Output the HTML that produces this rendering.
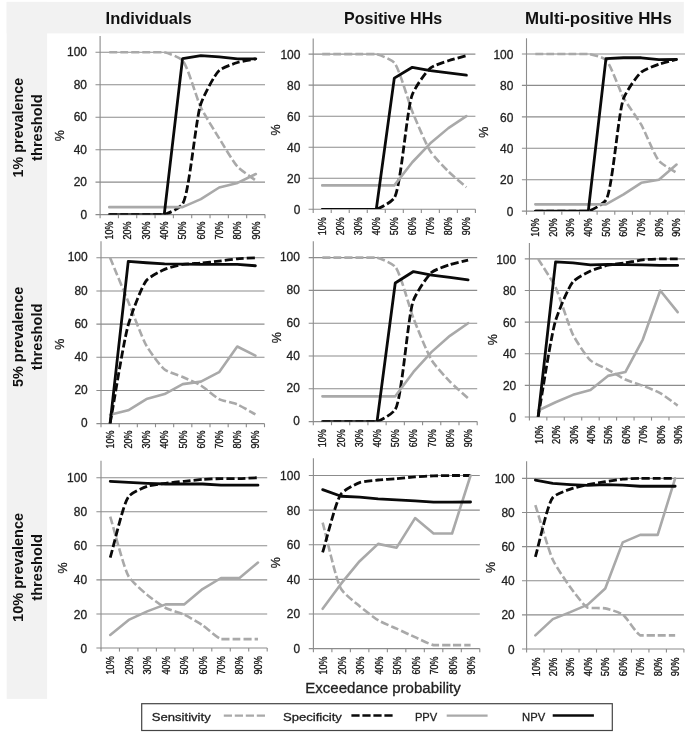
<!DOCTYPE html>
<html lang="en"><head><meta charset="utf-8"><title>Figure</title>
<style>html,body{margin:0;padding:0;background:#fff}body{width:685px;height:737px;overflow:hidden}svg{display:block}</style>
</head><body>
<svg width="685" height="737" viewBox="0 0 685 737" font-family='"Liberation Sans", sans-serif'>
<rect width="685" height="737" fill="#fff"/>
<rect x="6.7" y="1.9" width="677.1" height="31.5" fill="#f2f2f2"/>
<rect x="6.7" y="1.9" width="40.4" height="697" fill="#f2f2f2"/>
<text x="105.6" y="24.1" font-size="17" font-weight="bold" textLength="86.2" lengthAdjust="spacingAndGlyphs" fill="#111">Individuals</text>
<text x="344.1" y="24.1" font-size="17" font-weight="bold" textLength="98.1" lengthAdjust="spacingAndGlyphs" fill="#111">Positive HHs</text>
<text x="524.9" y="24.1" font-size="17" font-weight="bold" textLength="147" lengthAdjust="spacingAndGlyphs" fill="#111">Multi-positive HHs</text>
<text x="22.7" y="127.6" font-size="14.5" font-weight="bold" text-anchor="middle" textLength="99.6" lengthAdjust="spacingAndGlyphs" transform="rotate(-90 22.7 127.6)" fill="#111">1% prevalence</text>
<text x="42.3" y="127.6" font-size="14.5" font-weight="bold" text-anchor="middle" textLength="66.6" lengthAdjust="spacingAndGlyphs" transform="rotate(-90 42.3 127.6)" fill="#111">threshold</text>
<text x="22.7" y="336.9" font-size="14.5" font-weight="bold" text-anchor="middle" textLength="100.2" lengthAdjust="spacingAndGlyphs" transform="rotate(-90 22.7 336.9)" fill="#111">5% prevalence</text>
<text x="42.3" y="336.9" font-size="14.5" font-weight="bold" text-anchor="middle" textLength="66.6" lengthAdjust="spacingAndGlyphs" transform="rotate(-90 42.3 336.9)" fill="#111">threshold</text>
<text x="22.7" y="567.4" font-size="14.5" font-weight="bold" text-anchor="middle" textLength="109" lengthAdjust="spacingAndGlyphs" transform="rotate(-90 22.7 567.4)" fill="#111">10% prevalence</text>
<text x="42.3" y="567.4" font-size="14.5" font-weight="bold" text-anchor="middle" textLength="66.6" lengthAdjust="spacingAndGlyphs" transform="rotate(-90 42.3 567.4)" fill="#111">threshold</text>
<g>
<line x1="95.5" y1="214.6" x2="265" y2="214.6" stroke="#8c8c8c" stroke-width="1.1"/>
<text x="87" y="218.5" font-size="12.2" text-anchor="end" textLength="6.6" lengthAdjust="spacingAndGlyphs" fill="#222" stroke="#222" stroke-width="0.3">0</text>
<line x1="95.5" y1="182.14" x2="265" y2="182.14" stroke="#8c8c8c" stroke-width="1.1"/>
<text x="87" y="186.04" font-size="12.2" text-anchor="end" textLength="13.3" lengthAdjust="spacingAndGlyphs" fill="#222" stroke="#222" stroke-width="0.3">20</text>
<line x1="95.5" y1="149.68" x2="265" y2="149.68" stroke="#8c8c8c" stroke-width="1.1"/>
<text x="87" y="153.58" font-size="12.2" text-anchor="end" textLength="13.3" lengthAdjust="spacingAndGlyphs" fill="#222" stroke="#222" stroke-width="0.3">40</text>
<line x1="95.5" y1="117.22" x2="265" y2="117.22" stroke="#8c8c8c" stroke-width="1.1"/>
<text x="87" y="121.12" font-size="12.2" text-anchor="end" textLength="13.3" lengthAdjust="spacingAndGlyphs" fill="#222" stroke="#222" stroke-width="0.3">60</text>
<line x1="95.5" y1="84.76" x2="265" y2="84.76" stroke="#8c8c8c" stroke-width="1.1"/>
<text x="87" y="88.66" font-size="12.2" text-anchor="end" textLength="13.3" lengthAdjust="spacingAndGlyphs" fill="#222" stroke="#222" stroke-width="0.3">80</text>
<line x1="95.5" y1="52.3" x2="265" y2="52.3" stroke="#8c8c8c" stroke-width="1.1"/>
<text x="87" y="56.2" font-size="12.2" text-anchor="end" textLength="20" lengthAdjust="spacingAndGlyphs" fill="#222" stroke="#222" stroke-width="0.3">100</text>
<line x1="100.1" y1="36.07" x2="100.1" y2="215.1" stroke="#8c8c8c" stroke-width="1.1"/>
<line x1="100.1" y1="214.6" x2="100.1" y2="218.2" stroke="#8c8c8c" stroke-width="1.1"/>
<line x1="118.42" y1="214.6" x2="118.42" y2="218.2" stroke="#8c8c8c" stroke-width="1.1"/>
<line x1="136.74" y1="214.6" x2="136.74" y2="218.2" stroke="#8c8c8c" stroke-width="1.1"/>
<line x1="155.07" y1="214.6" x2="155.07" y2="218.2" stroke="#8c8c8c" stroke-width="1.1"/>
<line x1="173.39" y1="214.6" x2="173.39" y2="218.2" stroke="#8c8c8c" stroke-width="1.1"/>
<line x1="191.71" y1="214.6" x2="191.71" y2="218.2" stroke="#8c8c8c" stroke-width="1.1"/>
<line x1="210.03" y1="214.6" x2="210.03" y2="218.2" stroke="#8c8c8c" stroke-width="1.1"/>
<line x1="228.36" y1="214.6" x2="228.36" y2="218.2" stroke="#8c8c8c" stroke-width="1.1"/>
<line x1="246.68" y1="214.6" x2="246.68" y2="218.2" stroke="#8c8c8c" stroke-width="1.1"/>
<line x1="265" y1="214.6" x2="265" y2="218.2" stroke="#8c8c8c" stroke-width="1.1"/>
<text x="113.16" y="221.4" font-size="10.2" text-anchor="end" textLength="18" lengthAdjust="spacingAndGlyphs" transform="rotate(-90 113.16 221.4)" fill="#111" stroke="#111" stroke-width="0.3">10%</text>
<text x="131.48" y="221.4" font-size="10.2" text-anchor="end" textLength="18" lengthAdjust="spacingAndGlyphs" transform="rotate(-90 131.48 221.4)" fill="#111" stroke="#111" stroke-width="0.3">20%</text>
<text x="149.81" y="221.4" font-size="10.2" text-anchor="end" textLength="18" lengthAdjust="spacingAndGlyphs" transform="rotate(-90 149.81 221.4)" fill="#111" stroke="#111" stroke-width="0.3">30%</text>
<text x="168.13" y="221.4" font-size="10.2" text-anchor="end" textLength="18" lengthAdjust="spacingAndGlyphs" transform="rotate(-90 168.13 221.4)" fill="#111" stroke="#111" stroke-width="0.3">40%</text>
<text x="186.45" y="221.4" font-size="10.2" text-anchor="end" textLength="18" lengthAdjust="spacingAndGlyphs" transform="rotate(-90 186.45 221.4)" fill="#111" stroke="#111" stroke-width="0.3">50%</text>
<text x="204.77" y="221.4" font-size="10.2" text-anchor="end" textLength="18" lengthAdjust="spacingAndGlyphs" transform="rotate(-90 204.77 221.4)" fill="#111" stroke="#111" stroke-width="0.3">60%</text>
<text x="223.09" y="221.4" font-size="10.2" text-anchor="end" textLength="18" lengthAdjust="spacingAndGlyphs" transform="rotate(-90 223.09 221.4)" fill="#111" stroke="#111" stroke-width="0.3">70%</text>
<text x="241.42" y="221.4" font-size="10.2" text-anchor="end" textLength="18" lengthAdjust="spacingAndGlyphs" transform="rotate(-90 241.42 221.4)" fill="#111" stroke="#111" stroke-width="0.3">80%</text>
<text x="259.74" y="221.4" font-size="10.2" text-anchor="end" textLength="18" lengthAdjust="spacingAndGlyphs" transform="rotate(-90 259.74 221.4)" fill="#111" stroke="#111" stroke-width="0.3">90%</text>
<text x="63.6" y="135.6" font-size="12.5" text-anchor="middle" transform="rotate(-90 63.6 135.6)" fill="#222" stroke="#222" stroke-width="0.3">%</text>
<clipPath id="cp11"><rect x="100.1" y="32.07" width="170.9" height="182.33"/></clipPath>
<g clip-path="url(#cp11)">
<path d="M109.26 52.3 C112.93 52.3 123.92 52.3 127.58 52.3 C131.25 52.3 142.24 52.3 145.91 52.3 C149.57 52.3 160.64 52.3 164.23 52.3 C167.98 53.09 179.41 57.13 182.55 60.41 C187.54 65.63 196.84 99.21 200.87 107.48 C204.27 114.46 215.47 132.31 219.19 138.32 C222.81 144.15 233.42 162.32 237.52 166.72 C240.89 170.35 252.17 177.76 255.84 180.52" fill="none" stroke="#a9a9a9" stroke-width="2.6" stroke-dasharray="8 3"/>
<path d="M109.26 214.6 C112.93 214.6 123.92 214.6 127.58 214.6 C131.25 214.6 142.24 214.6 145.91 214.6 C149.57 214.6 160.69 214.6 164.23 214.6 C168.03 213.58 179.51 208.36 182.55 204.05 C189.23 194.59 195.76 118.12 200.87 103.75 C204 94.98 214.72 74.55 219.19 70.48 C222.44 67.53 233.79 63.7 237.52 62.52 C241.12 61.39 252.17 59.54 255.84 58.79" fill="none" stroke="#0a0a0a" stroke-width="2.8" stroke-dasharray="8 3"/>
<path d="M109.26 207.13 L127.58 207.13 L145.91 207.13 L164.23 207.13 L182.55 207.13 L200.87 199.18 L219.19 187.5 L237.52 182.95 L255.84 174.02" fill="none" stroke="#a9a9a9" stroke-width="2.6" stroke-linejoin="round" stroke-linecap="round"/>
<path d="M109.26 214.6 L127.58 214.6 L145.91 214.6 L164.23 214.6 L182.55 58.63 L200.87 55.55 L219.19 56.84 L237.52 58.79 L255.84 58.79" fill="none" stroke="#0a0a0a" stroke-width="2.8" stroke-linejoin="round" stroke-linecap="round"/>
</g>
</g>
<g>
<line x1="308.6" y1="209.3" x2="475.4" y2="209.3" stroke="#8c8c8c" stroke-width="1.1"/>
<text x="300.4" y="213.9" font-size="12.2" text-anchor="end" textLength="6.6" lengthAdjust="spacingAndGlyphs" fill="#222" stroke="#222" stroke-width="0.3">0</text>
<line x1="308.6" y1="178.26" x2="475.4" y2="178.26" stroke="#8c8c8c" stroke-width="1.1"/>
<text x="300.4" y="182.86" font-size="12.2" text-anchor="end" textLength="13.3" lengthAdjust="spacingAndGlyphs" fill="#222" stroke="#222" stroke-width="0.3">20</text>
<line x1="308.6" y1="147.22" x2="475.4" y2="147.22" stroke="#8c8c8c" stroke-width="1.1"/>
<text x="300.4" y="151.82" font-size="12.2" text-anchor="end" textLength="13.3" lengthAdjust="spacingAndGlyphs" fill="#222" stroke="#222" stroke-width="0.3">40</text>
<line x1="308.6" y1="116.18" x2="475.4" y2="116.18" stroke="#8c8c8c" stroke-width="1.1"/>
<text x="300.4" y="120.78" font-size="12.2" text-anchor="end" textLength="13.3" lengthAdjust="spacingAndGlyphs" fill="#222" stroke="#222" stroke-width="0.3">60</text>
<line x1="308.6" y1="85.14" x2="475.4" y2="85.14" stroke="#8c8c8c" stroke-width="1.1"/>
<text x="300.4" y="89.74" font-size="12.2" text-anchor="end" textLength="13.3" lengthAdjust="spacingAndGlyphs" fill="#222" stroke="#222" stroke-width="0.3">80</text>
<line x1="308.6" y1="54.1" x2="475.4" y2="54.1" stroke="#8c8c8c" stroke-width="1.1"/>
<text x="300.4" y="58.7" font-size="12.2" text-anchor="end" textLength="20" lengthAdjust="spacingAndGlyphs" fill="#222" stroke="#222" stroke-width="0.3">100</text>
<line x1="313.2" y1="38.58" x2="313.2" y2="209.8" stroke="#8c8c8c" stroke-width="1.1"/>
<line x1="313.2" y1="209.3" x2="313.2" y2="212.9" stroke="#8c8c8c" stroke-width="1.1"/>
<line x1="331.22" y1="209.3" x2="331.22" y2="212.9" stroke="#8c8c8c" stroke-width="1.1"/>
<line x1="349.24" y1="209.3" x2="349.24" y2="212.9" stroke="#8c8c8c" stroke-width="1.1"/>
<line x1="367.27" y1="209.3" x2="367.27" y2="212.9" stroke="#8c8c8c" stroke-width="1.1"/>
<line x1="385.29" y1="209.3" x2="385.29" y2="212.9" stroke="#8c8c8c" stroke-width="1.1"/>
<line x1="403.31" y1="209.3" x2="403.31" y2="212.9" stroke="#8c8c8c" stroke-width="1.1"/>
<line x1="421.33" y1="209.3" x2="421.33" y2="212.9" stroke="#8c8c8c" stroke-width="1.1"/>
<line x1="439.36" y1="209.3" x2="439.36" y2="212.9" stroke="#8c8c8c" stroke-width="1.1"/>
<line x1="457.38" y1="209.3" x2="457.38" y2="212.9" stroke="#8c8c8c" stroke-width="1.1"/>
<line x1="475.4" y1="209.3" x2="475.4" y2="212.9" stroke="#8c8c8c" stroke-width="1.1"/>
<text x="326.21" y="217.3" font-size="10.2" text-anchor="end" textLength="18" lengthAdjust="spacingAndGlyphs" transform="rotate(-90 326.21 217.3)" fill="#111" stroke="#111" stroke-width="0.3">10%</text>
<text x="344.23" y="217.3" font-size="10.2" text-anchor="end" textLength="18" lengthAdjust="spacingAndGlyphs" transform="rotate(-90 344.23 217.3)" fill="#111" stroke="#111" stroke-width="0.3">20%</text>
<text x="362.26" y="217.3" font-size="10.2" text-anchor="end" textLength="18" lengthAdjust="spacingAndGlyphs" transform="rotate(-90 362.26 217.3)" fill="#111" stroke="#111" stroke-width="0.3">30%</text>
<text x="380.28" y="217.3" font-size="10.2" text-anchor="end" textLength="18" lengthAdjust="spacingAndGlyphs" transform="rotate(-90 380.28 217.3)" fill="#111" stroke="#111" stroke-width="0.3">40%</text>
<text x="398.3" y="217.3" font-size="10.2" text-anchor="end" textLength="18" lengthAdjust="spacingAndGlyphs" transform="rotate(-90 398.3 217.3)" fill="#111" stroke="#111" stroke-width="0.3">50%</text>
<text x="416.32" y="217.3" font-size="10.2" text-anchor="end" textLength="18" lengthAdjust="spacingAndGlyphs" transform="rotate(-90 416.32 217.3)" fill="#111" stroke="#111" stroke-width="0.3">60%</text>
<text x="434.34" y="217.3" font-size="10.2" text-anchor="end" textLength="18" lengthAdjust="spacingAndGlyphs" transform="rotate(-90 434.34 217.3)" fill="#111" stroke="#111" stroke-width="0.3">70%</text>
<text x="452.37" y="217.3" font-size="10.2" text-anchor="end" textLength="18" lengthAdjust="spacingAndGlyphs" transform="rotate(-90 452.37 217.3)" fill="#111" stroke="#111" stroke-width="0.3">80%</text>
<text x="470.39" y="217.3" font-size="10.2" text-anchor="end" textLength="18" lengthAdjust="spacingAndGlyphs" transform="rotate(-90 470.39 217.3)" fill="#111" stroke="#111" stroke-width="0.3">90%</text>
<text x="280.3" y="130" font-size="12.5" text-anchor="middle" transform="rotate(-90 280.3 130)" fill="#222" stroke="#222" stroke-width="0.3">%</text>
<clipPath id="cp12"><rect x="313.2" y="34.58" width="168.2" height="174.52"/></clipPath>
<g clip-path="url(#cp12)">
<path d="M322.21 54.1 C325.82 54.1 336.63 54.1 340.23 54.1 C343.84 54.1 354.65 54.1 358.26 54.1 C361.86 54.1 372.76 54.1 376.28 54.1 C379.98 54.95 391.22 59.4 394.3 62.79 C399.26 68.25 408.55 102.34 412.32 111.52 C415.78 119.94 426.2 144.89 430.34 151.26 C433.61 156.27 444.65 167.74 448.37 171.43 C451.87 174.9 462.78 184.1 466.39 187.26" fill="none" stroke="#a9a9a9" stroke-width="2.6" stroke-dasharray="8 3"/>
<path d="M322.21 209.3 C325.82 209.3 336.63 209.3 340.23 209.3 C343.84 209.3 354.65 209.3 358.26 209.3 C361.86 209.3 372.81 209.3 376.28 209.3 C380.05 208.2 391.31 202.3 394.3 197.82 C400.92 187.88 406.83 107.97 412.32 94.45 C415.35 86.99 426.17 71.43 430.34 68.07 C433.6 65.44 444.73 62.02 448.37 60.77 C451.94 59.55 462.78 56.68 466.39 55.65" fill="none" stroke="#0a0a0a" stroke-width="2.8" stroke-dasharray="8 3"/>
<path d="M322.21 185.4 L340.23 185.4 L358.26 185.4 L376.28 185.4 L394.3 185.4 L412.32 162.27 L430.34 143.34 L448.37 128.13 L466.39 116.18" fill="none" stroke="#a9a9a9" stroke-width="2.6" stroke-linejoin="round" stroke-linecap="round"/>
<path d="M322.21 209.3 L340.23 209.3 L358.26 209.3 L376.28 209.3 L394.3 78.16 L412.32 67.29 L430.34 70.71 L448.37 72.88 L466.39 75.21" fill="none" stroke="#0a0a0a" stroke-width="2.8" stroke-linejoin="round" stroke-linecap="round"/>
</g>
</g>
<g>
<line x1="521.9" y1="211.1" x2="685.4" y2="211.1" stroke="#8c8c8c" stroke-width="1.1"/>
<text x="513.4" y="215.9" font-size="12.2" text-anchor="end" textLength="6.6" lengthAdjust="spacingAndGlyphs" fill="#222" stroke="#222" stroke-width="0.3">0</text>
<line x1="521.9" y1="179.68" x2="685.4" y2="179.68" stroke="#8c8c8c" stroke-width="1.1"/>
<text x="513.4" y="184.48" font-size="12.2" text-anchor="end" textLength="13.3" lengthAdjust="spacingAndGlyphs" fill="#222" stroke="#222" stroke-width="0.3">20</text>
<line x1="521.9" y1="148.26" x2="685.4" y2="148.26" stroke="#8c8c8c" stroke-width="1.1"/>
<text x="513.4" y="153.06" font-size="12.2" text-anchor="end" textLength="13.3" lengthAdjust="spacingAndGlyphs" fill="#222" stroke="#222" stroke-width="0.3">40</text>
<line x1="521.9" y1="116.84" x2="685.4" y2="116.84" stroke="#8c8c8c" stroke-width="1.1"/>
<text x="513.4" y="121.64" font-size="12.2" text-anchor="end" textLength="13.3" lengthAdjust="spacingAndGlyphs" fill="#222" stroke="#222" stroke-width="0.3">60</text>
<line x1="521.9" y1="85.42" x2="685.4" y2="85.42" stroke="#8c8c8c" stroke-width="1.1"/>
<text x="513.4" y="90.22" font-size="12.2" text-anchor="end" textLength="13.3" lengthAdjust="spacingAndGlyphs" fill="#222" stroke="#222" stroke-width="0.3">80</text>
<line x1="521.9" y1="54" x2="685.4" y2="54" stroke="#8c8c8c" stroke-width="1.1"/>
<text x="513.4" y="58.8" font-size="12.2" text-anchor="end" textLength="20" lengthAdjust="spacingAndGlyphs" fill="#222" stroke="#222" stroke-width="0.3">100</text>
<line x1="526.5" y1="38.29" x2="526.5" y2="211.6" stroke="#8c8c8c" stroke-width="1.1"/>
<line x1="526.5" y1="211.1" x2="526.5" y2="214.7" stroke="#8c8c8c" stroke-width="1.1"/>
<line x1="544.16" y1="211.1" x2="544.16" y2="214.7" stroke="#8c8c8c" stroke-width="1.1"/>
<line x1="561.81" y1="211.1" x2="561.81" y2="214.7" stroke="#8c8c8c" stroke-width="1.1"/>
<line x1="579.47" y1="211.1" x2="579.47" y2="214.7" stroke="#8c8c8c" stroke-width="1.1"/>
<line x1="597.12" y1="211.1" x2="597.12" y2="214.7" stroke="#8c8c8c" stroke-width="1.1"/>
<line x1="614.78" y1="211.1" x2="614.78" y2="214.7" stroke="#8c8c8c" stroke-width="1.1"/>
<line x1="632.43" y1="211.1" x2="632.43" y2="214.7" stroke="#8c8c8c" stroke-width="1.1"/>
<line x1="650.09" y1="211.1" x2="650.09" y2="214.7" stroke="#8c8c8c" stroke-width="1.1"/>
<line x1="667.74" y1="211.1" x2="667.74" y2="214.7" stroke="#8c8c8c" stroke-width="1.1"/>
<line x1="685.4" y1="211.1" x2="685.4" y2="214.7" stroke="#8c8c8c" stroke-width="1.1"/>
<text x="538.93" y="218.5" font-size="10.2" text-anchor="end" textLength="18.2" lengthAdjust="spacingAndGlyphs" transform="rotate(-90 538.93 218.5)" fill="#111" stroke="#111" stroke-width="0.3">10%</text>
<text x="556.58" y="218.5" font-size="10.2" text-anchor="end" textLength="18.2" lengthAdjust="spacingAndGlyphs" transform="rotate(-90 556.58 218.5)" fill="#111" stroke="#111" stroke-width="0.3">20%</text>
<text x="574.24" y="218.5" font-size="10.2" text-anchor="end" textLength="18.2" lengthAdjust="spacingAndGlyphs" transform="rotate(-90 574.24 218.5)" fill="#111" stroke="#111" stroke-width="0.3">30%</text>
<text x="591.89" y="218.5" font-size="10.2" text-anchor="end" textLength="18.2" lengthAdjust="spacingAndGlyphs" transform="rotate(-90 591.89 218.5)" fill="#111" stroke="#111" stroke-width="0.3">40%</text>
<text x="609.55" y="218.5" font-size="10.2" text-anchor="end" textLength="18.2" lengthAdjust="spacingAndGlyphs" transform="rotate(-90 609.55 218.5)" fill="#111" stroke="#111" stroke-width="0.3">50%</text>
<text x="627.21" y="218.5" font-size="10.2" text-anchor="end" textLength="18.2" lengthAdjust="spacingAndGlyphs" transform="rotate(-90 627.21 218.5)" fill="#111" stroke="#111" stroke-width="0.3">60%</text>
<text x="644.86" y="218.5" font-size="10.2" text-anchor="end" textLength="18.2" lengthAdjust="spacingAndGlyphs" transform="rotate(-90 644.86 218.5)" fill="#111" stroke="#111" stroke-width="0.3">70%</text>
<text x="662.52" y="218.5" font-size="10.2" text-anchor="end" textLength="18.2" lengthAdjust="spacingAndGlyphs" transform="rotate(-90 662.52 218.5)" fill="#111" stroke="#111" stroke-width="0.3">80%</text>
<text x="680.17" y="218.5" font-size="10.2" text-anchor="end" textLength="18.2" lengthAdjust="spacingAndGlyphs" transform="rotate(-90 680.17 218.5)" fill="#111" stroke="#111" stroke-width="0.3">90%</text>
<text x="488.4" y="132.3" font-size="12.5" text-anchor="middle" transform="rotate(-90 488.4 132.3)" fill="#222" stroke="#222" stroke-width="0.3">%</text>
<clipPath id="cp13"><rect x="526.5" y="34.29" width="164.9" height="176.61"/></clipPath>
<g clip-path="url(#cp13)">
<path d="M535.33 54 C538.86 54 549.45 54 552.98 54 C556.51 54 567.11 54 570.64 54 C574.17 54 584.81 54 588.29 54 C591.87 54.57 602.89 57.09 605.95 59.81 C610.55 63.91 619.8 91.16 623.61 97.99 C626.93 103.94 637.91 118.83 641.26 124.69 C645.02 131.27 654.63 155.86 658.92 160.83 C662.04 164.45 673.04 170.51 676.57 172.92" fill="none" stroke="#a9a9a9" stroke-width="2.6" stroke-dasharray="8 3"/>
<path d="M535.33 211.1 C538.86 211.1 549.45 211.1 552.98 211.1 C556.51 211.1 567.11 211.1 570.64 211.1 C574.17 211.1 584.9 211.1 588.29 211.1 C591.98 210.05 603.02 204.45 605.95 200.1 C612.48 190.41 618.24 111.66 623.61 98.3 C626.57 90.91 637.18 75.5 641.26 72.07 C644.45 69.39 655.33 65.48 658.92 64.21 C662.4 62.98 673.04 60.44 676.57 59.5" fill="none" stroke="#0a0a0a" stroke-width="2.8" stroke-dasharray="8 3"/>
<path d="M535.33 204.34 L552.98 204.34 L570.64 204.34 L588.29 204.34 L605.95 204.34 L623.61 194.45 L641.26 182.82 L658.92 179.68 L676.57 164.6" fill="none" stroke="#a9a9a9" stroke-width="2.6" stroke-linejoin="round" stroke-linecap="round"/>
<path d="M535.33 211.1 L552.98 211.1 L570.64 211.1 L588.29 211.1 L605.95 58.71 L623.61 57.77 L641.26 57.77 L658.92 59.66 L676.57 59.5" fill="none" stroke="#0a0a0a" stroke-width="2.8" stroke-linejoin="round" stroke-linecap="round"/>
</g>
</g>
<g>
<line x1="96.4" y1="423.6" x2="264.5" y2="423.6" stroke="#8c8c8c" stroke-width="1.1"/>
<text x="87.7" y="427.2" font-size="12.2" text-anchor="end" textLength="6.6" lengthAdjust="spacingAndGlyphs" fill="#222" stroke="#222" stroke-width="0.3">0</text>
<line x1="96.4" y1="390.44" x2="264.5" y2="390.44" stroke="#8c8c8c" stroke-width="1.1"/>
<text x="87.7" y="394.04" font-size="12.2" text-anchor="end" textLength="13.3" lengthAdjust="spacingAndGlyphs" fill="#222" stroke="#222" stroke-width="0.3">20</text>
<line x1="96.4" y1="357.28" x2="264.5" y2="357.28" stroke="#8c8c8c" stroke-width="1.1"/>
<text x="87.7" y="360.88" font-size="12.2" text-anchor="end" textLength="13.3" lengthAdjust="spacingAndGlyphs" fill="#222" stroke="#222" stroke-width="0.3">40</text>
<line x1="96.4" y1="324.12" x2="264.5" y2="324.12" stroke="#8c8c8c" stroke-width="1.1"/>
<text x="87.7" y="327.72" font-size="12.2" text-anchor="end" textLength="13.3" lengthAdjust="spacingAndGlyphs" fill="#222" stroke="#222" stroke-width="0.3">60</text>
<line x1="96.4" y1="290.96" x2="264.5" y2="290.96" stroke="#8c8c8c" stroke-width="1.1"/>
<text x="87.7" y="294.56" font-size="12.2" text-anchor="end" textLength="13.3" lengthAdjust="spacingAndGlyphs" fill="#222" stroke="#222" stroke-width="0.3">80</text>
<line x1="96.4" y1="257.8" x2="264.5" y2="257.8" stroke="#8c8c8c" stroke-width="1.1"/>
<text x="87.7" y="261.4" font-size="12.2" text-anchor="end" textLength="20" lengthAdjust="spacingAndGlyphs" fill="#222" stroke="#222" stroke-width="0.3">100</text>
<line x1="101" y1="241.22" x2="101" y2="424.1" stroke="#8c8c8c" stroke-width="1.1"/>
<line x1="101" y1="423.6" x2="101" y2="427.2" stroke="#8c8c8c" stroke-width="1.1"/>
<line x1="119.17" y1="423.6" x2="119.17" y2="427.2" stroke="#8c8c8c" stroke-width="1.1"/>
<line x1="137.33" y1="423.6" x2="137.33" y2="427.2" stroke="#8c8c8c" stroke-width="1.1"/>
<line x1="155.5" y1="423.6" x2="155.5" y2="427.2" stroke="#8c8c8c" stroke-width="1.1"/>
<line x1="173.67" y1="423.6" x2="173.67" y2="427.2" stroke="#8c8c8c" stroke-width="1.1"/>
<line x1="191.83" y1="423.6" x2="191.83" y2="427.2" stroke="#8c8c8c" stroke-width="1.1"/>
<line x1="210" y1="423.6" x2="210" y2="427.2" stroke="#8c8c8c" stroke-width="1.1"/>
<line x1="228.17" y1="423.6" x2="228.17" y2="427.2" stroke="#8c8c8c" stroke-width="1.1"/>
<line x1="246.33" y1="423.6" x2="246.33" y2="427.2" stroke="#8c8c8c" stroke-width="1.1"/>
<line x1="264.5" y1="423.6" x2="264.5" y2="427.2" stroke="#8c8c8c" stroke-width="1.1"/>
<text x="113.88" y="430.6" font-size="10.2" text-anchor="end" textLength="18" lengthAdjust="spacingAndGlyphs" transform="rotate(-90 113.88 430.6)" fill="#111" stroke="#111" stroke-width="0.3">10%</text>
<text x="132.05" y="430.6" font-size="10.2" text-anchor="end" textLength="18" lengthAdjust="spacingAndGlyphs" transform="rotate(-90 132.05 430.6)" fill="#111" stroke="#111" stroke-width="0.3">20%</text>
<text x="150.22" y="430.6" font-size="10.2" text-anchor="end" textLength="18" lengthAdjust="spacingAndGlyphs" transform="rotate(-90 150.22 430.6)" fill="#111" stroke="#111" stroke-width="0.3">30%</text>
<text x="168.38" y="430.6" font-size="10.2" text-anchor="end" textLength="18" lengthAdjust="spacingAndGlyphs" transform="rotate(-90 168.38 430.6)" fill="#111" stroke="#111" stroke-width="0.3">40%</text>
<text x="186.55" y="430.6" font-size="10.2" text-anchor="end" textLength="18" lengthAdjust="spacingAndGlyphs" transform="rotate(-90 186.55 430.6)" fill="#111" stroke="#111" stroke-width="0.3">50%</text>
<text x="204.72" y="430.6" font-size="10.2" text-anchor="end" textLength="18" lengthAdjust="spacingAndGlyphs" transform="rotate(-90 204.72 430.6)" fill="#111" stroke="#111" stroke-width="0.3">60%</text>
<text x="222.88" y="430.6" font-size="10.2" text-anchor="end" textLength="18" lengthAdjust="spacingAndGlyphs" transform="rotate(-90 222.88 430.6)" fill="#111" stroke="#111" stroke-width="0.3">70%</text>
<text x="241.05" y="430.6" font-size="10.2" text-anchor="end" textLength="18" lengthAdjust="spacingAndGlyphs" transform="rotate(-90 241.05 430.6)" fill="#111" stroke="#111" stroke-width="0.3">80%</text>
<text x="259.22" y="430.6" font-size="10.2" text-anchor="end" textLength="18" lengthAdjust="spacingAndGlyphs" transform="rotate(-90 259.22 430.6)" fill="#111" stroke="#111" stroke-width="0.3">90%</text>
<text x="63.6" y="344.2" font-size="12.5" text-anchor="middle" transform="rotate(-90 63.6 344.2)" fill="#222" stroke="#222" stroke-width="0.3">%</text>
<clipPath id="cp21"><rect x="101" y="237.22" width="169.5" height="186.18"/></clipPath>
<g clip-path="url(#cp21)">
<path d="M110.08 257.8 C113.72 266.59 124.62 292.95 128.25 301.74 C131.88 310.52 142.26 338.43 146.42 345.67 C149.72 351.43 160.48 366.39 164.58 369.55 C167.91 372.1 179.13 375.43 182.75 377.01 C186.4 378.61 197.39 383.36 200.92 385.47 C204.67 387.71 215.27 397.16 219.08 399.06 C222.57 400.8 233.69 402.9 237.25 404.37 C240.97 405.91 251.78 412.33 255.42 414.32" fill="none" stroke="#a9a9a9" stroke-width="2.6" stroke-dasharray="8 3"/>
<path d="M110.08 423.6 C113.72 403.87 123.66 340.61 128.25 324.95 C131.43 314.11 141.69 286.07 146.42 280.51 C149.56 276.81 160.83 271.03 164.58 269.41 C168.11 267.88 179.09 265.06 182.75 264.43 C186.35 263.81 197.29 263.44 200.92 263.11 C204.55 262.77 215.45 261.55 219.08 261.12 C222.72 260.68 233.61 259.13 237.25 258.79 C240.88 258.46 251.78 258 255.42 257.8" fill="none" stroke="#0a0a0a" stroke-width="2.8" stroke-dasharray="8 3"/>
<path d="M110.08 414.81 L128.25 410.34 L146.42 399.06 L164.58 394.09 L182.75 384.14 L200.92 381.65 L219.08 372.2 L237.25 346.5 L255.42 355.62" fill="none" stroke="#a9a9a9" stroke-width="2.6" stroke-linejoin="round" stroke-linecap="round"/>
<path d="M110.08 423.6 L128.25 261.45 L146.42 262.77 L164.58 263.93 L182.75 264.1 L200.92 264.43 L219.08 264.43 L237.25 264.43 L255.42 265.76" fill="none" stroke="#0a0a0a" stroke-width="2.8" stroke-linejoin="round" stroke-linecap="round"/>
</g>
</g>
<g>
<line x1="308.7" y1="421.6" x2="477.2" y2="421.6" stroke="#8c8c8c" stroke-width="1.1"/>
<text x="299.9" y="425.2" font-size="12.2" text-anchor="end" textLength="6.6" lengthAdjust="spacingAndGlyphs" fill="#222" stroke="#222" stroke-width="0.3">0</text>
<line x1="308.7" y1="388.8" x2="477.2" y2="388.8" stroke="#8c8c8c" stroke-width="1.1"/>
<text x="299.9" y="392.4" font-size="12.2" text-anchor="end" textLength="13.3" lengthAdjust="spacingAndGlyphs" fill="#222" stroke="#222" stroke-width="0.3">20</text>
<line x1="308.7" y1="356" x2="477.2" y2="356" stroke="#8c8c8c" stroke-width="1.1"/>
<text x="299.9" y="359.6" font-size="12.2" text-anchor="end" textLength="13.3" lengthAdjust="spacingAndGlyphs" fill="#222" stroke="#222" stroke-width="0.3">40</text>
<line x1="308.7" y1="323.2" x2="477.2" y2="323.2" stroke="#8c8c8c" stroke-width="1.1"/>
<text x="299.9" y="326.8" font-size="12.2" text-anchor="end" textLength="13.3" lengthAdjust="spacingAndGlyphs" fill="#222" stroke="#222" stroke-width="0.3">60</text>
<line x1="308.7" y1="290.4" x2="477.2" y2="290.4" stroke="#8c8c8c" stroke-width="1.1"/>
<text x="299.9" y="294" font-size="12.2" text-anchor="end" textLength="13.3" lengthAdjust="spacingAndGlyphs" fill="#222" stroke="#222" stroke-width="0.3">80</text>
<line x1="308.7" y1="257.6" x2="477.2" y2="257.6" stroke="#8c8c8c" stroke-width="1.1"/>
<text x="299.9" y="261.2" font-size="12.2" text-anchor="end" textLength="20" lengthAdjust="spacingAndGlyphs" fill="#222" stroke="#222" stroke-width="0.3">100</text>
<line x1="313.3" y1="241.2" x2="313.3" y2="422.1" stroke="#8c8c8c" stroke-width="1.1"/>
<line x1="313.3" y1="421.6" x2="313.3" y2="425.2" stroke="#8c8c8c" stroke-width="1.1"/>
<line x1="331.51" y1="421.6" x2="331.51" y2="425.2" stroke="#8c8c8c" stroke-width="1.1"/>
<line x1="349.72" y1="421.6" x2="349.72" y2="425.2" stroke="#8c8c8c" stroke-width="1.1"/>
<line x1="367.93" y1="421.6" x2="367.93" y2="425.2" stroke="#8c8c8c" stroke-width="1.1"/>
<line x1="386.14" y1="421.6" x2="386.14" y2="425.2" stroke="#8c8c8c" stroke-width="1.1"/>
<line x1="404.36" y1="421.6" x2="404.36" y2="425.2" stroke="#8c8c8c" stroke-width="1.1"/>
<line x1="422.57" y1="421.6" x2="422.57" y2="425.2" stroke="#8c8c8c" stroke-width="1.1"/>
<line x1="440.78" y1="421.6" x2="440.78" y2="425.2" stroke="#8c8c8c" stroke-width="1.1"/>
<line x1="458.99" y1="421.6" x2="458.99" y2="425.2" stroke="#8c8c8c" stroke-width="1.1"/>
<line x1="477.2" y1="421.6" x2="477.2" y2="425.2" stroke="#8c8c8c" stroke-width="1.1"/>
<text x="326.41" y="429.3" font-size="10.2" text-anchor="end" textLength="18" lengthAdjust="spacingAndGlyphs" transform="rotate(-90 326.41 429.3)" fill="#111" stroke="#111" stroke-width="0.3">10%</text>
<text x="344.62" y="429.3" font-size="10.2" text-anchor="end" textLength="18" lengthAdjust="spacingAndGlyphs" transform="rotate(-90 344.62 429.3)" fill="#111" stroke="#111" stroke-width="0.3">20%</text>
<text x="362.83" y="429.3" font-size="10.2" text-anchor="end" textLength="18" lengthAdjust="spacingAndGlyphs" transform="rotate(-90 362.83 429.3)" fill="#111" stroke="#111" stroke-width="0.3">30%</text>
<text x="381.04" y="429.3" font-size="10.2" text-anchor="end" textLength="18" lengthAdjust="spacingAndGlyphs" transform="rotate(-90 381.04 429.3)" fill="#111" stroke="#111" stroke-width="0.3">40%</text>
<text x="399.25" y="429.3" font-size="10.2" text-anchor="end" textLength="18" lengthAdjust="spacingAndGlyphs" transform="rotate(-90 399.25 429.3)" fill="#111" stroke="#111" stroke-width="0.3">50%</text>
<text x="417.46" y="429.3" font-size="10.2" text-anchor="end" textLength="18" lengthAdjust="spacingAndGlyphs" transform="rotate(-90 417.46 429.3)" fill="#111" stroke="#111" stroke-width="0.3">60%</text>
<text x="435.67" y="429.3" font-size="10.2" text-anchor="end" textLength="18" lengthAdjust="spacingAndGlyphs" transform="rotate(-90 435.67 429.3)" fill="#111" stroke="#111" stroke-width="0.3">70%</text>
<text x="453.88" y="429.3" font-size="10.2" text-anchor="end" textLength="18" lengthAdjust="spacingAndGlyphs" transform="rotate(-90 453.88 429.3)" fill="#111" stroke="#111" stroke-width="0.3">80%</text>
<text x="472.09" y="429.3" font-size="10.2" text-anchor="end" textLength="18" lengthAdjust="spacingAndGlyphs" transform="rotate(-90 472.09 429.3)" fill="#111" stroke="#111" stroke-width="0.3">90%</text>
<text x="280.6" y="337.8" font-size="12.5" text-anchor="middle" transform="rotate(-90 280.6 337.8)" fill="#222" stroke="#222" stroke-width="0.3">%</text>
<clipPath id="cp22"><rect x="313.3" y="237.2" width="169.9" height="184.2"/></clipPath>
<g clip-path="url(#cp22)">
<path d="M322.41 257.6 C326.05 257.6 336.97 257.6 340.62 257.6 C344.26 257.6 355.19 257.6 358.83 257.6 C362.47 257.6 373.49 257.6 377.04 257.6 C380.79 258.49 392.15 263.26 395.25 266.78 C400.33 272.56 409.64 308.57 413.46 318.28 C416.96 327.17 427.46 353.52 431.67 360.26 C434.97 365.54 446.12 377.68 449.88 381.58 C453.42 385.25 464.45 394.97 468.09 398.31" fill="none" stroke="#a9a9a9" stroke-width="2.6" stroke-dasharray="8 3"/>
<path d="M322.41 421.6 C326.05 421.6 336.97 421.6 340.62 421.6 C344.26 421.6 355.19 421.6 358.83 421.6 C362.47 421.6 373.55 421.6 377.04 421.6 C380.86 420.44 392.23 414.13 395.25 409.46 C402.04 398.96 407.88 314.54 413.46 300.24 C416.52 292.4 427.42 275.92 431.67 272.36 C434.95 269.62 446.19 265.89 449.88 264.65 C453.48 263.45 464.45 260.98 468.09 260.06" fill="none" stroke="#0a0a0a" stroke-width="2.8" stroke-dasharray="8 3"/>
<path d="M322.41 396.34 L340.62 396.34 L358.83 396.34 L377.04 396.34 L395.25 396.34 L413.46 371.91 L431.67 351.9 L449.88 335.83 L468.09 323.2" fill="none" stroke="#a9a9a9" stroke-width="2.6" stroke-linejoin="round" stroke-linecap="round"/>
<path d="M322.41 421.6 L340.62 421.6 L358.83 421.6 L377.04 421.6 L395.25 283.02 L413.46 271.54 L431.67 275.15 L449.88 277.44 L468.09 279.9" fill="none" stroke="#0a0a0a" stroke-width="2.8" stroke-linejoin="round" stroke-linecap="round"/>
</g>
</g>
<g>
<line x1="524.8" y1="417" x2="686.4" y2="417" stroke="#8c8c8c" stroke-width="1.1"/>
<text x="516.2" y="421.7" font-size="12.2" text-anchor="end" textLength="6.6" lengthAdjust="spacingAndGlyphs" fill="#222" stroke="#222" stroke-width="0.3">0</text>
<line x1="524.8" y1="385.38" x2="686.4" y2="385.38" stroke="#8c8c8c" stroke-width="1.1"/>
<text x="516.2" y="390.08" font-size="12.2" text-anchor="end" textLength="13.3" lengthAdjust="spacingAndGlyphs" fill="#222" stroke="#222" stroke-width="0.3">20</text>
<line x1="524.8" y1="353.76" x2="686.4" y2="353.76" stroke="#8c8c8c" stroke-width="1.1"/>
<text x="516.2" y="358.46" font-size="12.2" text-anchor="end" textLength="13.3" lengthAdjust="spacingAndGlyphs" fill="#222" stroke="#222" stroke-width="0.3">40</text>
<line x1="524.8" y1="322.14" x2="686.4" y2="322.14" stroke="#8c8c8c" stroke-width="1.1"/>
<text x="516.2" y="326.84" font-size="12.2" text-anchor="end" textLength="13.3" lengthAdjust="spacingAndGlyphs" fill="#222" stroke="#222" stroke-width="0.3">60</text>
<line x1="524.8" y1="290.52" x2="686.4" y2="290.52" stroke="#8c8c8c" stroke-width="1.1"/>
<text x="516.2" y="295.22" font-size="12.2" text-anchor="end" textLength="13.3" lengthAdjust="spacingAndGlyphs" fill="#222" stroke="#222" stroke-width="0.3">80</text>
<line x1="524.8" y1="258.9" x2="686.4" y2="258.9" stroke="#8c8c8c" stroke-width="1.1"/>
<text x="516.2" y="263.6" font-size="12.2" text-anchor="end" textLength="20" lengthAdjust="spacingAndGlyphs" fill="#222" stroke="#222" stroke-width="0.3">100</text>
<line x1="529.4" y1="243.09" x2="529.4" y2="417.5" stroke="#8c8c8c" stroke-width="1.1"/>
<line x1="529.4" y1="417" x2="529.4" y2="420.6" stroke="#8c8c8c" stroke-width="1.1"/>
<line x1="546.84" y1="417" x2="546.84" y2="420.6" stroke="#8c8c8c" stroke-width="1.1"/>
<line x1="564.29" y1="417" x2="564.29" y2="420.6" stroke="#8c8c8c" stroke-width="1.1"/>
<line x1="581.73" y1="417" x2="581.73" y2="420.6" stroke="#8c8c8c" stroke-width="1.1"/>
<line x1="599.18" y1="417" x2="599.18" y2="420.6" stroke="#8c8c8c" stroke-width="1.1"/>
<line x1="616.62" y1="417" x2="616.62" y2="420.6" stroke="#8c8c8c" stroke-width="1.1"/>
<line x1="634.07" y1="417" x2="634.07" y2="420.6" stroke="#8c8c8c" stroke-width="1.1"/>
<line x1="651.51" y1="417" x2="651.51" y2="420.6" stroke="#8c8c8c" stroke-width="1.1"/>
<line x1="668.96" y1="417" x2="668.96" y2="420.6" stroke="#8c8c8c" stroke-width="1.1"/>
<line x1="686.4" y1="417" x2="686.4" y2="420.6" stroke="#8c8c8c" stroke-width="1.1"/>
<text x="542.62" y="425.4" font-size="10.2" text-anchor="end" textLength="18.6" lengthAdjust="spacingAndGlyphs" transform="rotate(-90 542.62 425.4)" fill="#111" stroke="#111" stroke-width="0.3">10%</text>
<text x="560.07" y="425.4" font-size="10.2" text-anchor="end" textLength="18.6" lengthAdjust="spacingAndGlyphs" transform="rotate(-90 560.07 425.4)" fill="#111" stroke="#111" stroke-width="0.3">20%</text>
<text x="577.51" y="425.4" font-size="10.2" text-anchor="end" textLength="18.6" lengthAdjust="spacingAndGlyphs" transform="rotate(-90 577.51 425.4)" fill="#111" stroke="#111" stroke-width="0.3">30%</text>
<text x="594.96" y="425.4" font-size="10.2" text-anchor="end" textLength="18.6" lengthAdjust="spacingAndGlyphs" transform="rotate(-90 594.96 425.4)" fill="#111" stroke="#111" stroke-width="0.3">40%</text>
<text x="612.4" y="425.4" font-size="10.2" text-anchor="end" textLength="18.6" lengthAdjust="spacingAndGlyphs" transform="rotate(-90 612.4 425.4)" fill="#111" stroke="#111" stroke-width="0.3">50%</text>
<text x="629.84" y="425.4" font-size="10.2" text-anchor="end" textLength="18.6" lengthAdjust="spacingAndGlyphs" transform="rotate(-90 629.84 425.4)" fill="#111" stroke="#111" stroke-width="0.3">60%</text>
<text x="647.29" y="425.4" font-size="10.2" text-anchor="end" textLength="18.6" lengthAdjust="spacingAndGlyphs" transform="rotate(-90 647.29 425.4)" fill="#111" stroke="#111" stroke-width="0.3">70%</text>
<text x="664.73" y="425.4" font-size="10.2" text-anchor="end" textLength="18.6" lengthAdjust="spacingAndGlyphs" transform="rotate(-90 664.73 425.4)" fill="#111" stroke="#111" stroke-width="0.3">80%</text>
<text x="682.18" y="425.4" font-size="10.2" text-anchor="end" textLength="18.6" lengthAdjust="spacingAndGlyphs" transform="rotate(-90 682.18 425.4)" fill="#111" stroke="#111" stroke-width="0.3">90%</text>
<text x="496.8" y="339.8" font-size="12.5" text-anchor="middle" transform="rotate(-90 496.8 339.8)" fill="#222" stroke="#222" stroke-width="0.3">%</text>
<clipPath id="cp23"><rect x="529.4" y="239.09" width="163" height="177.71"/></clipPath>
<g clip-path="url(#cp23)">
<path d="M538.12 258.9 C541.61 264.59 552.37 280.76 555.57 287.36 C559.5 295.47 568.98 326.95 573.01 334.79 C576.17 340.92 586.47 356.85 590.46 360.4 C593.63 363.23 604.43 367.67 607.9 369.57 C611.41 371.49 621.78 377.9 625.34 379.53 C628.76 381.1 639.32 384.35 642.79 385.7 C646.3 387.06 656.85 391.22 660.23 393.13 C663.84 395.15 674.19 403.12 677.68 405.62" fill="none" stroke="#a9a9a9" stroke-width="2.6" stroke-dasharray="8 3"/>
<path d="M538.12 417 C541.61 397.71 550.99 335.31 555.57 320.56 C558.58 310.85 568.62 286.83 573.01 281.82 C576.06 278.35 586.87 272.75 590.46 271.07 C593.86 269.48 604.37 266.05 607.9 265.22 C611.35 264.42 621.86 263.39 625.34 262.85 C628.84 262.31 639.29 260.24 642.79 259.85 C646.27 259.46 656.74 258.99 660.23 258.9 C663.72 258.9 674.19 258.9 677.68 258.9" fill="none" stroke="#0a0a0a" stroke-width="2.8" stroke-dasharray="8 3"/>
<path d="M538.12 410.52 L555.57 402.3 L573.01 394.87 L590.46 389.96 L607.9 375.89 L625.34 372.1 L642.79 339.53 L660.23 290.52 L677.68 312.18" fill="none" stroke="#a9a9a9" stroke-width="2.6" stroke-linejoin="round" stroke-linecap="round"/>
<path d="M538.12 417 L555.57 261.9 L573.01 262.85 L590.46 264.91 L607.9 264.43 L625.34 264.59 L642.79 264.91 L660.23 265.38 L677.68 265.38" fill="none" stroke="#0a0a0a" stroke-width="2.8" stroke-linejoin="round" stroke-linecap="round"/>
</g>
</g>
<g>
<line x1="96.4" y1="648" x2="267.2" y2="648" stroke="#8c8c8c" stroke-width="1.1"/>
<text x="87.1" y="652.6" font-size="12.2" text-anchor="end" textLength="6.6" lengthAdjust="spacingAndGlyphs" fill="#222" stroke="#222" stroke-width="0.3">0</text>
<line x1="96.4" y1="613.94" x2="267.2" y2="613.94" stroke="#8c8c8c" stroke-width="1.1"/>
<text x="87.1" y="618.54" font-size="12.2" text-anchor="end" textLength="13.3" lengthAdjust="spacingAndGlyphs" fill="#222" stroke="#222" stroke-width="0.3">20</text>
<line x1="96.4" y1="579.88" x2="267.2" y2="579.88" stroke="#8c8c8c" stroke-width="1.1"/>
<text x="87.1" y="584.48" font-size="12.2" text-anchor="end" textLength="13.3" lengthAdjust="spacingAndGlyphs" fill="#222" stroke="#222" stroke-width="0.3">40</text>
<line x1="96.4" y1="545.82" x2="267.2" y2="545.82" stroke="#8c8c8c" stroke-width="1.1"/>
<text x="87.1" y="550.42" font-size="12.2" text-anchor="end" textLength="13.3" lengthAdjust="spacingAndGlyphs" fill="#222" stroke="#222" stroke-width="0.3">60</text>
<line x1="96.4" y1="511.76" x2="267.2" y2="511.76" stroke="#8c8c8c" stroke-width="1.1"/>
<text x="87.1" y="516.36" font-size="12.2" text-anchor="end" textLength="13.3" lengthAdjust="spacingAndGlyphs" fill="#222" stroke="#222" stroke-width="0.3">80</text>
<line x1="96.4" y1="477.7" x2="267.2" y2="477.7" stroke="#8c8c8c" stroke-width="1.1"/>
<text x="87.1" y="482.3" font-size="12.2" text-anchor="end" textLength="20" lengthAdjust="spacingAndGlyphs" fill="#222" stroke="#222" stroke-width="0.3">100</text>
<line x1="101" y1="460.67" x2="101" y2="648.5" stroke="#8c8c8c" stroke-width="1.1"/>
<line x1="101" y1="648" x2="101" y2="651.6" stroke="#8c8c8c" stroke-width="1.1"/>
<line x1="119.47" y1="648" x2="119.47" y2="651.6" stroke="#8c8c8c" stroke-width="1.1"/>
<line x1="137.93" y1="648" x2="137.93" y2="651.6" stroke="#8c8c8c" stroke-width="1.1"/>
<line x1="156.4" y1="648" x2="156.4" y2="651.6" stroke="#8c8c8c" stroke-width="1.1"/>
<line x1="174.87" y1="648" x2="174.87" y2="651.6" stroke="#8c8c8c" stroke-width="1.1"/>
<line x1="193.33" y1="648" x2="193.33" y2="651.6" stroke="#8c8c8c" stroke-width="1.1"/>
<line x1="211.8" y1="648" x2="211.8" y2="651.6" stroke="#8c8c8c" stroke-width="1.1"/>
<line x1="230.27" y1="648" x2="230.27" y2="651.6" stroke="#8c8c8c" stroke-width="1.1"/>
<line x1="248.73" y1="648" x2="248.73" y2="651.6" stroke="#8c8c8c" stroke-width="1.1"/>
<line x1="267.2" y1="648" x2="267.2" y2="651.6" stroke="#8c8c8c" stroke-width="1.1"/>
<text x="114.23" y="656.2" font-size="10.2" text-anchor="end" textLength="18.3" lengthAdjust="spacingAndGlyphs" transform="rotate(-90 114.23 656.2)" fill="#111" stroke="#111" stroke-width="0.3">10%</text>
<text x="132.7" y="656.2" font-size="10.2" text-anchor="end" textLength="18.3" lengthAdjust="spacingAndGlyphs" transform="rotate(-90 132.7 656.2)" fill="#111" stroke="#111" stroke-width="0.3">20%</text>
<text x="151.17" y="656.2" font-size="10.2" text-anchor="end" textLength="18.3" lengthAdjust="spacingAndGlyphs" transform="rotate(-90 151.17 656.2)" fill="#111" stroke="#111" stroke-width="0.3">30%</text>
<text x="169.63" y="656.2" font-size="10.2" text-anchor="end" textLength="18.3" lengthAdjust="spacingAndGlyphs" transform="rotate(-90 169.63 656.2)" fill="#111" stroke="#111" stroke-width="0.3">40%</text>
<text x="188.1" y="656.2" font-size="10.2" text-anchor="end" textLength="18.3" lengthAdjust="spacingAndGlyphs" transform="rotate(-90 188.1 656.2)" fill="#111" stroke="#111" stroke-width="0.3">50%</text>
<text x="206.57" y="656.2" font-size="10.2" text-anchor="end" textLength="18.3" lengthAdjust="spacingAndGlyphs" transform="rotate(-90 206.57 656.2)" fill="#111" stroke="#111" stroke-width="0.3">60%</text>
<text x="225.03" y="656.2" font-size="10.2" text-anchor="end" textLength="18.3" lengthAdjust="spacingAndGlyphs" transform="rotate(-90 225.03 656.2)" fill="#111" stroke="#111" stroke-width="0.3">70%</text>
<text x="243.5" y="656.2" font-size="10.2" text-anchor="end" textLength="18.3" lengthAdjust="spacingAndGlyphs" transform="rotate(-90 243.5 656.2)" fill="#111" stroke="#111" stroke-width="0.3">80%</text>
<text x="261.97" y="656.2" font-size="10.2" text-anchor="end" textLength="18.3" lengthAdjust="spacingAndGlyphs" transform="rotate(-90 261.97 656.2)" fill="#111" stroke="#111" stroke-width="0.3">90%</text>
<text x="66.7" y="568" font-size="12.5" text-anchor="middle" transform="rotate(-90 66.7 568)" fill="#222" stroke="#222" stroke-width="0.3">%</text>
<clipPath id="cp31"><rect x="101" y="456.67" width="172.2" height="191.13"/></clipPath>
<g clip-path="url(#cp31)">
<path d="M110.23 516.7 C113.93 528.65 123.77 568.32 128.7 576.47 C131.88 581.74 143.33 591.64 147.17 594.87 C150.74 597.88 161.8 605.98 165.63 607.98 C169.2 609.84 180.48 612.95 184.1 614.62 C187.87 616.36 198.95 622.79 202.57 625.18 C206.34 627.67 217.11 637.83 221.03 639.14 C224.54 639.14 235.81 639.14 239.5 639.14 C243.19 639.14 254.27 639.14 257.97 639.14" fill="none" stroke="#a9a9a9" stroke-width="2.6" stroke-dasharray="8 3"/>
<path d="M110.23 557.57 C113.93 545.34 123.26 503.12 128.7 496.43 C131.82 492.6 143.36 487.7 147.17 486.39 C150.76 485.15 161.93 483.83 165.63 483.32 C169.32 482.81 180.41 481.67 184.1 481.28 C187.79 480.88 198.87 479.68 202.57 479.4 C206.26 479.13 217.34 478.64 221.03 478.55 C224.73 478.55 235.81 478.55 239.5 478.55 C243.19 478.47 254.27 477.87 257.97 477.7" fill="none" stroke="#0a0a0a" stroke-width="2.8" stroke-dasharray="8 3"/>
<path d="M110.23 634.89 L128.7 619.9 L147.17 611.39 L165.63 604.4 L184.1 604.4 L202.57 589.08 L221.03 578.01 L239.5 578.01 L257.97 562.51" fill="none" stroke="#a9a9a9" stroke-width="2.6" stroke-linejoin="round" stroke-linecap="round"/>
<path d="M110.23 481.28 L128.7 482.3 L147.17 483.32 L165.63 484 L184.1 484 L202.57 484 L221.03 485.19 L239.5 485.19 L257.97 485.19" fill="none" stroke="#0a0a0a" stroke-width="2.8" stroke-linejoin="round" stroke-linecap="round"/>
</g>
</g>
<g>
<line x1="308.8" y1="648.6" x2="479.8" y2="648.6" stroke="#8c8c8c" stroke-width="1.1"/>
<text x="300.1" y="653.1" font-size="12.2" text-anchor="end" textLength="6.6" lengthAdjust="spacingAndGlyphs" fill="#222" stroke="#222" stroke-width="0.3">0</text>
<line x1="308.8" y1="613.98" x2="479.8" y2="613.98" stroke="#8c8c8c" stroke-width="1.1"/>
<text x="300.1" y="618.48" font-size="12.2" text-anchor="end" textLength="13.3" lengthAdjust="spacingAndGlyphs" fill="#222" stroke="#222" stroke-width="0.3">20</text>
<line x1="308.8" y1="579.36" x2="479.8" y2="579.36" stroke="#8c8c8c" stroke-width="1.1"/>
<text x="300.1" y="583.86" font-size="12.2" text-anchor="end" textLength="13.3" lengthAdjust="spacingAndGlyphs" fill="#222" stroke="#222" stroke-width="0.3">40</text>
<line x1="308.8" y1="544.74" x2="479.8" y2="544.74" stroke="#8c8c8c" stroke-width="1.1"/>
<text x="300.1" y="549.24" font-size="12.2" text-anchor="end" textLength="13.3" lengthAdjust="spacingAndGlyphs" fill="#222" stroke="#222" stroke-width="0.3">60</text>
<line x1="308.8" y1="510.12" x2="479.8" y2="510.12" stroke="#8c8c8c" stroke-width="1.1"/>
<text x="300.1" y="514.62" font-size="12.2" text-anchor="end" textLength="13.3" lengthAdjust="spacingAndGlyphs" fill="#222" stroke="#222" stroke-width="0.3">80</text>
<line x1="308.8" y1="475.5" x2="479.8" y2="475.5" stroke="#8c8c8c" stroke-width="1.1"/>
<text x="300.1" y="480" font-size="12.2" text-anchor="end" textLength="20" lengthAdjust="spacingAndGlyphs" fill="#222" stroke="#222" stroke-width="0.3">100</text>
<line x1="313.4" y1="458.19" x2="313.4" y2="649.1" stroke="#8c8c8c" stroke-width="1.1"/>
<line x1="313.4" y1="648.6" x2="313.4" y2="652.2" stroke="#8c8c8c" stroke-width="1.1"/>
<line x1="331.89" y1="648.6" x2="331.89" y2="652.2" stroke="#8c8c8c" stroke-width="1.1"/>
<line x1="350.38" y1="648.6" x2="350.38" y2="652.2" stroke="#8c8c8c" stroke-width="1.1"/>
<line x1="368.87" y1="648.6" x2="368.87" y2="652.2" stroke="#8c8c8c" stroke-width="1.1"/>
<line x1="387.36" y1="648.6" x2="387.36" y2="652.2" stroke="#8c8c8c" stroke-width="1.1"/>
<line x1="405.84" y1="648.6" x2="405.84" y2="652.2" stroke="#8c8c8c" stroke-width="1.1"/>
<line x1="424.33" y1="648.6" x2="424.33" y2="652.2" stroke="#8c8c8c" stroke-width="1.1"/>
<line x1="442.82" y1="648.6" x2="442.82" y2="652.2" stroke="#8c8c8c" stroke-width="1.1"/>
<line x1="461.31" y1="648.6" x2="461.31" y2="652.2" stroke="#8c8c8c" stroke-width="1.1"/>
<line x1="479.8" y1="648.6" x2="479.8" y2="652.2" stroke="#8c8c8c" stroke-width="1.1"/>
<text x="327.14" y="656.6" font-size="10.2" text-anchor="end" textLength="18" lengthAdjust="spacingAndGlyphs" transform="rotate(-90 327.14 656.6)" fill="#111" stroke="#111" stroke-width="0.3">10%</text>
<text x="345.63" y="656.6" font-size="10.2" text-anchor="end" textLength="18" lengthAdjust="spacingAndGlyphs" transform="rotate(-90 345.63 656.6)" fill="#111" stroke="#111" stroke-width="0.3">20%</text>
<text x="364.12" y="656.6" font-size="10.2" text-anchor="end" textLength="18" lengthAdjust="spacingAndGlyphs" transform="rotate(-90 364.12 656.6)" fill="#111" stroke="#111" stroke-width="0.3">30%</text>
<text x="382.61" y="656.6" font-size="10.2" text-anchor="end" textLength="18" lengthAdjust="spacingAndGlyphs" transform="rotate(-90 382.61 656.6)" fill="#111" stroke="#111" stroke-width="0.3">40%</text>
<text x="401.1" y="656.6" font-size="10.2" text-anchor="end" textLength="18" lengthAdjust="spacingAndGlyphs" transform="rotate(-90 401.1 656.6)" fill="#111" stroke="#111" stroke-width="0.3">50%</text>
<text x="419.59" y="656.6" font-size="10.2" text-anchor="end" textLength="18" lengthAdjust="spacingAndGlyphs" transform="rotate(-90 419.59 656.6)" fill="#111" stroke="#111" stroke-width="0.3">60%</text>
<text x="438.08" y="656.6" font-size="10.2" text-anchor="end" textLength="18" lengthAdjust="spacingAndGlyphs" transform="rotate(-90 438.08 656.6)" fill="#111" stroke="#111" stroke-width="0.3">70%</text>
<text x="456.57" y="656.6" font-size="10.2" text-anchor="end" textLength="18" lengthAdjust="spacingAndGlyphs" transform="rotate(-90 456.57 656.6)" fill="#111" stroke="#111" stroke-width="0.3">80%</text>
<text x="475.06" y="656.6" font-size="10.2" text-anchor="end" textLength="18" lengthAdjust="spacingAndGlyphs" transform="rotate(-90 475.06 656.6)" fill="#111" stroke="#111" stroke-width="0.3">90%</text>
<text x="279.8" y="562.7" font-size="12.5" text-anchor="middle" transform="rotate(-90 279.8 562.7)" fill="#222" stroke="#222" stroke-width="0.3">%</text>
<clipPath id="cp32"><rect x="313.4" y="454.19" width="172.4" height="194.21"/></clipPath>
<g clip-path="url(#cp32)">
<path d="M322.64 522.58 C326.34 535.88 335.93 580.51 341.13 589.05 C344.28 594.22 355.84 603.02 359.62 606.19 C363.25 609.23 374.28 617.92 378.11 620.21 C381.69 622.36 392.9 627 396.6 628.69 C400.3 630.39 411.38 635.53 415.09 637.18 C418.78 638.82 429.8 644.36 433.58 645.14 C437.2 645.14 448.37 645.14 452.07 645.14 C455.76 645.14 466.86 645.14 470.56 645.14" fill="none" stroke="#a9a9a9" stroke-width="2.6" stroke-dasharray="8 3"/>
<path d="M322.64 552.36 C326.34 540.65 335.85 500.59 341.13 493.85 C344.27 489.85 355.78 483.97 359.62 482.6 C363.19 481.32 374.41 480.4 378.11 480 C381.8 479.6 392.9 478.93 396.6 478.62 C400.3 478.3 411.39 477.16 415.09 476.88 C418.78 476.61 429.88 475.98 433.58 475.85 C437.27 475.71 448.37 475.53 452.07 475.5 C455.76 475.5 466.86 475.5 470.56 475.5" fill="none" stroke="#0a0a0a" stroke-width="2.8" stroke-dasharray="8 3"/>
<path d="M322.64 608.79 L341.13 583.69 L359.62 561.18 L378.11 543.87 L396.6 547.68 L415.09 518.08 L433.58 533.49 L452.07 533.49 L470.56 475.5" fill="none" stroke="#a9a9a9" stroke-width="2.6" stroke-linejoin="round" stroke-linecap="round"/>
<path d="M322.64 489.69 L341.13 496.27 L359.62 497.14 L378.11 498.87 L396.6 499.91 L415.09 500.95 L433.58 502.16 L452.07 502.16 L470.56 501.98" fill="none" stroke="#0a0a0a" stroke-width="2.8" stroke-linejoin="round" stroke-linecap="round"/>
</g>
</g>
<g>
<line x1="522" y1="649" x2="683.9" y2="649" stroke="#8c8c8c" stroke-width="1.1"/>
<text x="514.7" y="653.6" font-size="12.2" text-anchor="end" textLength="6.6" lengthAdjust="spacingAndGlyphs" fill="#222" stroke="#222" stroke-width="0.3">0</text>
<line x1="522" y1="614.88" x2="683.9" y2="614.88" stroke="#8c8c8c" stroke-width="1.1"/>
<text x="514.7" y="619.48" font-size="12.2" text-anchor="end" textLength="13.3" lengthAdjust="spacingAndGlyphs" fill="#222" stroke="#222" stroke-width="0.3">20</text>
<line x1="522" y1="580.76" x2="683.9" y2="580.76" stroke="#8c8c8c" stroke-width="1.1"/>
<text x="514.7" y="585.36" font-size="12.2" text-anchor="end" textLength="13.3" lengthAdjust="spacingAndGlyphs" fill="#222" stroke="#222" stroke-width="0.3">40</text>
<line x1="522" y1="546.64" x2="683.9" y2="546.64" stroke="#8c8c8c" stroke-width="1.1"/>
<text x="514.7" y="551.24" font-size="12.2" text-anchor="end" textLength="13.3" lengthAdjust="spacingAndGlyphs" fill="#222" stroke="#222" stroke-width="0.3">60</text>
<line x1="522" y1="512.52" x2="683.9" y2="512.52" stroke="#8c8c8c" stroke-width="1.1"/>
<text x="514.7" y="517.12" font-size="12.2" text-anchor="end" textLength="13.3" lengthAdjust="spacingAndGlyphs" fill="#222" stroke="#222" stroke-width="0.3">80</text>
<line x1="522" y1="478.4" x2="683.9" y2="478.4" stroke="#8c8c8c" stroke-width="1.1"/>
<text x="514.7" y="483" font-size="12.2" text-anchor="end" textLength="20" lengthAdjust="spacingAndGlyphs" fill="#222" stroke="#222" stroke-width="0.3">100</text>
<line x1="526.6" y1="461.34" x2="526.6" y2="649.5" stroke="#8c8c8c" stroke-width="1.1"/>
<line x1="526.6" y1="649" x2="526.6" y2="652.6" stroke="#8c8c8c" stroke-width="1.1"/>
<line x1="544.08" y1="649" x2="544.08" y2="652.6" stroke="#8c8c8c" stroke-width="1.1"/>
<line x1="561.56" y1="649" x2="561.56" y2="652.6" stroke="#8c8c8c" stroke-width="1.1"/>
<line x1="579.03" y1="649" x2="579.03" y2="652.6" stroke="#8c8c8c" stroke-width="1.1"/>
<line x1="596.51" y1="649" x2="596.51" y2="652.6" stroke="#8c8c8c" stroke-width="1.1"/>
<line x1="613.99" y1="649" x2="613.99" y2="652.6" stroke="#8c8c8c" stroke-width="1.1"/>
<line x1="631.47" y1="649" x2="631.47" y2="652.6" stroke="#8c8c8c" stroke-width="1.1"/>
<line x1="648.94" y1="649" x2="648.94" y2="652.6" stroke="#8c8c8c" stroke-width="1.1"/>
<line x1="666.42" y1="649" x2="666.42" y2="652.6" stroke="#8c8c8c" stroke-width="1.1"/>
<line x1="683.9" y1="649" x2="683.9" y2="652.6" stroke="#8c8c8c" stroke-width="1.1"/>
<text x="539.54" y="657.6" font-size="10.2" text-anchor="end" textLength="18.6" lengthAdjust="spacingAndGlyphs" transform="rotate(-90 539.54 657.6)" fill="#111" stroke="#111" stroke-width="0.3">10%</text>
<text x="557.02" y="657.6" font-size="10.2" text-anchor="end" textLength="18.6" lengthAdjust="spacingAndGlyphs" transform="rotate(-90 557.02 657.6)" fill="#111" stroke="#111" stroke-width="0.3">20%</text>
<text x="574.49" y="657.6" font-size="10.2" text-anchor="end" textLength="18.6" lengthAdjust="spacingAndGlyphs" transform="rotate(-90 574.49 657.6)" fill="#111" stroke="#111" stroke-width="0.3">30%</text>
<text x="591.97" y="657.6" font-size="10.2" text-anchor="end" textLength="18.6" lengthAdjust="spacingAndGlyphs" transform="rotate(-90 591.97 657.6)" fill="#111" stroke="#111" stroke-width="0.3">40%</text>
<text x="609.45" y="657.6" font-size="10.2" text-anchor="end" textLength="18.6" lengthAdjust="spacingAndGlyphs" transform="rotate(-90 609.45 657.6)" fill="#111" stroke="#111" stroke-width="0.3">50%</text>
<text x="626.93" y="657.6" font-size="10.2" text-anchor="end" textLength="18.6" lengthAdjust="spacingAndGlyphs" transform="rotate(-90 626.93 657.6)" fill="#111" stroke="#111" stroke-width="0.3">60%</text>
<text x="644.41" y="657.6" font-size="10.2" text-anchor="end" textLength="18.6" lengthAdjust="spacingAndGlyphs" transform="rotate(-90 644.41 657.6)" fill="#111" stroke="#111" stroke-width="0.3">70%</text>
<text x="661.88" y="657.6" font-size="10.2" text-anchor="end" textLength="18.6" lengthAdjust="spacingAndGlyphs" transform="rotate(-90 661.88 657.6)" fill="#111" stroke="#111" stroke-width="0.3">80%</text>
<text x="679.36" y="657.6" font-size="10.2" text-anchor="end" textLength="18.6" lengthAdjust="spacingAndGlyphs" transform="rotate(-90 679.36 657.6)" fill="#111" stroke="#111" stroke-width="0.3">90%</text>
<text x="494.8" y="567.5" font-size="12.5" text-anchor="middle" transform="rotate(-90 494.8 567.5)" fill="#222" stroke="#222" stroke-width="0.3">%</text>
<clipPath id="cp33"><rect x="526.6" y="457.34" width="163.3" height="191.46"/></clipPath>
<g clip-path="url(#cp33)">
<path d="M535.34 505.01 C538.83 515.97 548.67 550.91 552.82 559.78 C555.94 566.45 566.62 582.27 570.29 587.24 C573.64 591.77 583.81 605.79 587.77 607.71 C590.97 608.4 601.8 607.74 605.25 608.4 C608.8 609.07 619.51 612.31 622.73 614.54 C626.63 617.24 636.23 633.5 640.21 635.35 C643.39 635.35 654.19 635.35 657.68 635.35 C661.18 635.35 671.67 635.35 675.16 635.35" fill="none" stroke="#a9a9a9" stroke-width="2.6" stroke-dasharray="8 3"/>
<path d="M535.34 556.88 C538.83 545 547.56 503.68 552.82 497.51 C555.76 494.05 566.74 490.45 570.29 489.15 C573.73 487.89 584.26 485.29 587.77 484.54 C591.25 483.8 601.75 482.19 605.25 481.64 C608.74 481.1 619.22 479.41 622.73 479.08 C626.21 478.76 636.71 478.47 640.21 478.4 C643.7 478.4 654.19 478.4 657.68 478.4 C661.18 478.4 671.67 478.4 675.16 478.4" fill="none" stroke="#0a0a0a" stroke-width="2.8" stroke-dasharray="8 3"/>
<path d="M535.34 635.35 L552.82 619.14 L570.29 612.15 L587.77 604.64 L605.25 588.44 L622.73 542.38 L640.21 534.87 L657.68 534.87 L675.16 478.4" fill="none" stroke="#a9a9a9" stroke-width="2.6" stroke-linejoin="round" stroke-linecap="round"/>
<path d="M535.34 480.11 L552.82 483.35 L570.29 484.54 L587.77 485.39 L605.25 484.71 L622.73 485.22 L640.21 486.25 L657.68 486.25 L675.16 486.25" fill="none" stroke="#0a0a0a" stroke-width="2.8" stroke-linejoin="round" stroke-linecap="round"/>
</g>
</g>
<text x="305.3" y="693" font-size="15.4" textLength="155.5" lengthAdjust="spacingAndGlyphs" fill="#222" stroke="#222" stroke-width="0.3">Exceedance probability</text>
<rect x="141.7" y="703.7" width="470.6" height="26.8" fill="#fff" stroke="#444" stroke-width="1.2"/>
<text x="151.8" y="721.1" font-size="11.6" textLength="58.9" lengthAdjust="spacingAndGlyphs" fill="#222" stroke="#222" stroke-width="0.3">Sensitivity</text>
<line x1="223.8" y1="715.6" x2="266" y2="715.6" stroke="#a9a9a9" stroke-width="2.3" stroke-dasharray="8.2 2.8"/>
<text x="282.9" y="721.1" font-size="11.6" textLength="59" lengthAdjust="spacingAndGlyphs" fill="#222" stroke="#222" stroke-width="0.3">Specificity</text>
<line x1="351.4" y1="715.6" x2="394" y2="715.6" stroke="#0a0a0a" stroke-width="2.5" stroke-dasharray="8.2 2.8"/>
<text x="414.9" y="721.1" font-size="11.6" textLength="22.3" lengthAdjust="spacingAndGlyphs" fill="#222" stroke="#222" stroke-width="0.3">PPV</text>
<line x1="446.7" y1="715.6" x2="487.6" y2="715.6" stroke="#a9a9a9" stroke-width="2.3"/>
<text x="522.1" y="721.1" font-size="11.6" textLength="23.1" lengthAdjust="spacingAndGlyphs" fill="#222" stroke="#222" stroke-width="0.3">NPV</text>
<line x1="552.7" y1="715.6" x2="593.9" y2="715.6" stroke="#0a0a0a" stroke-width="2.5"/>
</svg>
</body></html>
